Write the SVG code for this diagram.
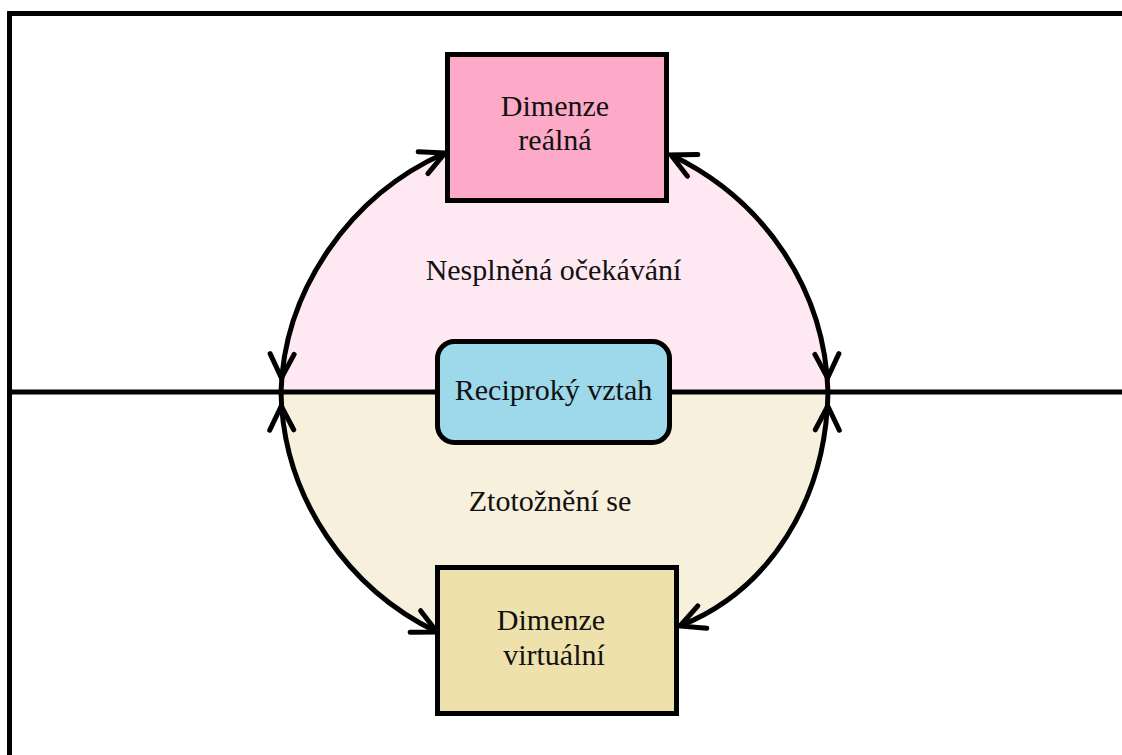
<svg xmlns="http://www.w3.org/2000/svg" width="1122" height="755" viewBox="0 0 1122 755">
  <style>
    .lbl { font-family: "Liberation Serif", "Times New Roman", serif; font-size: 30px; fill: #111; text-anchor: middle; }
    .box { stroke: #000; stroke-width: 5; }
    .arc { fill: none; stroke: #000; stroke-width: 5; }
    .frame { fill: none; stroke: #000; stroke-width: 5; }
  </style>
  <defs>
    <!-- open V arrowhead, apex on the path end -->
    <marker id="head" markerUnits="userSpaceOnUse" orient="auto-start-reverse" refX="26" refY="0" markerWidth="60" markerHeight="60" overflow="visible">
      <path d="M2,-12 L26,0 L2,12" fill="none" stroke="#000" stroke-width="5" stroke-linecap="round" stroke-linejoin="miter"/>
    </marker>
    <!-- same head, pulled back from the path end -->
    <marker id="head-off" markerUnits="userSpaceOnUse" orient="auto-start-reverse" refX="40" refY="0" markerWidth="60" markerHeight="60" overflow="visible">
      <path d="M2,-12 L26,0 L2,12" fill="none" stroke="#000" stroke-width="5" stroke-linecap="round" stroke-linejoin="miter"/>
    </marker>
  </defs>

  <rect width="1122" height="755" fill="#fff"/>

  <!-- background regions -->
  <g id="regions">
    <path d="M281,392 C284,290 350,195 445,153 L671,155 C765,200 825,290 828,392 Z" fill="#fee8f2"/>
    <path d="M281,392 C283,500 350,590 437,632 L680,626 C770,590 826,500 828,392 Z" fill="#f7f0dc"/>
  </g>

  <!-- frame and divider -->
  <g id="frame">
    <path class="frame" d="M9.5,760 L9.5,13.5 L1130,13.5"/>
    <line x1="9" y1="392" x2="1122" y2="392" stroke="#000" stroke-width="5"/>
  </g>

  <g id="connectors">
    <path class="arc" d="M445,153 C350,195 284,290 281,392" marker-start="url(#head)" marker-end="url(#head-off)"/>
    <path class="arc" d="M671,155 C765,200 825,290 828,392" marker-start="url(#head)" marker-end="url(#head-off)"/>
    <path class="arc" d="M437,632 C350,590 283,500 281,392" marker-start="url(#head)" marker-end="url(#head-off)"/>
    <path class="arc" d="M680,626 C770,590 826,500 828,392" marker-start="url(#head)" marker-end="url(#head-off)"/>
  </g>

  <g id="real">
    <rect class="box" x="447.5" y="54.5" width="219" height="146" fill="#fdaac8"/>
    <text class="lbl" x="555" y="116">Dimenze</text>
    <text class="lbl" x="555" y="150">reálná</text>
  </g>

  <g id="expectations">
    <text class="lbl" x="553.5" y="280">Nesplněná očekávání</text>
  </g>

  <g id="reciprocal">
    <rect class="box" x="437.5" y="341.5" width="232" height="101" rx="17" fill="#9dd9ea"/>
    <text class="lbl" x="553.5" y="400">Reciproký vztah</text>
  </g>

  <g id="identification">
    <text class="lbl" x="550" y="511">Ztotožnění se</text>
  </g>

  <g id="virtual">
    <rect class="box" x="437.5" y="567.5" width="239" height="146" fill="#efe1ab"/>
    <text class="lbl" x="551" y="630">Dimenze</text>
    <text class="lbl" x="554" y="665">virtuální</text>
  </g>
</svg>
